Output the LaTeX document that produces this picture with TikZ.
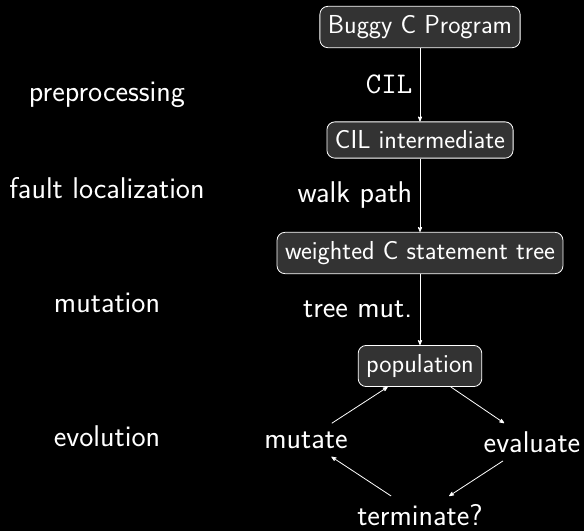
\documentclass[tikz,border=0pt]{standalone}
\usepackage{tikz}
\usetikzlibrary{arrows}
\usetikzlibrary{positioning}
\definecolor{boxgray}{gray}{0.2}

\begin{document}
\begin{tikzpicture}
	[node distance={113pt}, line width=0.8pt, white, >=stealth',
	 main/.style = {draw, rounded corners=8pt, fill=boxgray, inner xsep=8pt, inner ysep=9pt,
	                font=\fontsize{26}{31}\selectfont\sffamily},
	 loop/.style = {outer sep=5pt},
	 every node/.style = {font=\fontsize{30}{36}\selectfont\sffamily}]
	\fill[black] (0,0) rectangle (584pt,-531pt);
	\useasboundingbox (0,0) rectangle (584pt,-531pt);
	\node[main] (1) at (420pt,-27pt) {Buggy C Program};
	\node[main] (2) [below of=1] {CIL intermediate};
	\node[main] (3) [below of=2] {weighted C statement tree};
	\node[main] (4) [below of=3] {population};
	\node[loop] (5) [on grid, below left=74pt and 114pt of 4] {mutate};
	\node[loop] (6) [on grid, below right=76pt and 112pt of 4] {evaluate};
	\node[loop] (7) [on grid, below=149pt of 4] {terminate?};
	% phases on the left
	\node (a) at (107pt,-95pt) {preprocessing};
	\node (b) at (107pt,-188pt) {fault localization};
	\node (c) at (107pt,-303pt) {mutation};
	\node (d) at (107pt,-436pt) {evolution};
	\draw[->] (1) -- node[left=4pt] {\ttfamily CIL} (2);
	\draw[->] (2) -- node[left=4pt] {walk path} (3);
	\draw[->] (3) -- node[left=4pt] {tree mut.} (4);
	\draw[->] (5) -- (4);
	\draw[->] (4) -- (6);
	\draw[->] (6) -- (7);
	\draw[->] (7) -- (5);
\end{tikzpicture}
\end{document}
